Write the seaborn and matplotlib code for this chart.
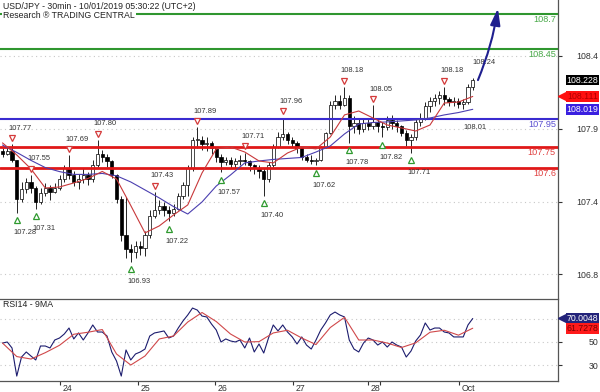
import numpy as np
import pandas as pd
import matplotlib
matplotlib.use("Agg")
import matplotlib.pyplot as plt
import matplotlib.transforms as mtransforms
import seaborn as sns

# 30min candles, compressed
first_open = 107.72
closes = [107.70, 107.72, 107.66, 107.38, 107.45, 107.50, 107.46, 107.36, 107.42, 107.46,
          107.43, 107.46, 107.52, 107.60, 107.55, 107.50, 107.52, 107.55, 107.52, 107.62,
          107.70, 107.68, 107.65, 107.55, 107.38, 107.12, 107.02, 107.00, 107.04, 107.03,
          107.12, 107.26, 107.30, 107.33, 107.30, 107.28, 107.31, 107.40, 107.48, 107.60,
          107.80, 107.80, 107.77, 107.78, 107.74, 107.68, 107.64, 107.66, 107.63, 107.65,
          107.66, 107.65, 107.62, 107.60, 107.58, 107.52, 107.62, 107.75, 107.82, 107.84,
          107.80, 107.78, 107.74, 107.68, 107.66, 107.65, 107.66, 107.75, 107.85, 108.05,
          108.08, 108.05, 108.10, 107.90, 107.92, 107.88, 107.92, 107.90, 107.93, 107.90,
          107.89, 107.94, 107.92, 107.90, 107.85, 107.80, 107.82, 107.93, 107.96, 108.04,
          108.08, 108.10, 108.12, 108.09, 108.07, 108.08, 108.06, 108.07, 108.18, 108.228]
highs = [107.74, 107.75, 107.77, 107.66, 107.50, 107.53, 107.55, 107.47, 107.46, 107.49,
         107.48, 107.49, 107.55, 107.62, 107.69, 107.58, 107.56, 107.60, 107.57, 107.66,
         107.80, 107.73, 107.70, 107.66, 107.56, 107.40, 107.39, 107.06, 107.08, 107.08,
         107.15, 107.30, 107.43, 107.37, 107.36, 107.33, 107.34, 107.42, 107.50, 107.62,
         107.82, 107.89, 107.83, 107.82, 107.79, 107.75, 107.70, 107.68, 107.68, 107.67,
         107.69, 107.71, 107.66, 107.63, 107.62, 107.60, 107.64, 107.77, 107.86, 107.96,
         107.86, 107.82, 107.79, 107.75, 107.70, 107.69, 107.67, 107.76, 107.86, 108.08,
         108.12, 108.12, 108.18, 108.12, 107.97, 107.95, 107.95, 107.96, 108.05, 107.95,
         107.93, 107.97, 107.98, 107.94, 107.91, 107.87, 107.84, 107.95, 107.99, 108.07,
         108.11, 108.13, 108.15, 108.18, 108.11, 108.11, 108.10, 108.09, 108.20, 108.24]
lows = [107.68, 107.69, 107.64, 107.28, 107.36, 107.42, 107.42, 107.31, 107.34, 107.40,
        107.37, 107.42, 107.44, 107.50, 107.52, 107.47, 107.45, 107.49, 107.48, 107.50,
        107.61, 107.64, 107.61, 107.53, 107.35, 107.08, 106.96, 106.93, 106.96, 106.98,
        106.97, 107.10, 107.24, 107.27, 107.26, 107.22, 107.26, 107.30, 107.38, 107.40,
        107.58, 107.74, 107.73, 107.72, 107.70, 107.64, 107.57, 107.62, 107.60, 107.60,
        107.62, 107.62, 107.58, 107.56, 107.53, 107.40, 107.50, 107.61, 107.74, 107.80,
        107.77, 107.75, 107.71, 107.66, 107.64, 107.63, 107.62, 107.65, 107.74, 107.84,
        108.02, 108.02, 108.04, 107.78, 107.85, 107.84, 107.86, 107.87, 107.88, 107.86,
        107.82, 107.87, 107.88, 107.86, 107.83, 107.76, 107.71, 107.80, 107.90, 107.94,
        108.00, 108.04, 108.06, 108.05, 108.04, 108.04, 108.03, 108.02, 108.06, 108.16]

# moving averages, sampled every 3rd candle
ma_step = 3
ma_fast = [107.779, 107.693, 107.593, 107.457, 107.464, 107.493, 107.525, 107.575, 107.521, 107.332,
           107.136, 107.186, 107.264, 107.336, 107.564, 107.736, 107.750, 107.714, 107.650, 107.636,
           107.707, 107.750, 107.736, 107.821, 107.979, 108.007, 107.957, 107.907, 107.886, 107.864,
           107.907, 108.064, 108.071, 108.111]
ma_slow = [107.764, 107.711, 107.654, 107.603, 107.574, 107.554, 107.554, 107.561, 107.544, 107.500,
           107.443, 107.386, 107.324, 107.271, 107.357, 107.471, 107.550, 107.636, 107.650, 107.661,
           107.668, 107.675, 107.714, 107.757, 107.843, 107.914, 107.925, 107.929, 107.936, 107.943,
           107.957, 107.979, 107.996, 108.019]

rsi14 = [49.1, 50.0, 44.9, 21.0, 37.2, 41.5, 38.0, 34.7, 46.6, 46.6,
         44.9, 51.7, 53.4, 56.8, 61.9, 52.6, 57.7, 51.7, 57.7, 64.5,
         58.5, 58.5, 55.1, 41.5, 33.8, 21.0, 43.2, 34.7, 39.8, 41.5,
         44.0, 55.1, 57.7, 58.5, 59.4, 53.4, 55.1, 61.9, 67.9, 73.0,
         78.9, 77.2, 72.1, 71.3, 65.3, 60.2, 50.0, 52.6, 50.9, 50.0,
         51.7, 44.9, 53.4, 41.5, 48.3, 40.6, 53.4, 64.5, 59.4, 64.5,
         58.5, 54.3, 48.3, 54.3, 47.4, 44.0, 51.7, 60.2, 66.2, 73.0,
         75.5, 73.0, 71.3, 51.7, 44.0, 41.5, 49.1, 53.4, 51.7, 47.4,
         50.0, 45.7, 50.0, 47.4, 45.7, 37.2, 42.3, 50.9, 56.0, 66.2,
         60.2, 61.9, 61.9, 58.5, 57.7, 54.3, 54.3, 54.3, 64.5, 70.0048]
rsi_ma9 = [49.1, 37.6, 35.5, 40.9, 47.2, 56.6, 58.3, 60.6, 39.8, 30.4,
           38.1, 52.6, 55.1, 67.0, 75.1, 67.4, 56.8, 50.0, 50.3, 57.7,
           60.0, 53.4, 47.8, 62.3, 71.0, 51.7, 51.7, 49.1, 45.3, 49.3,
           58.3, 60.0, 55.8, 61.7278]

resistances = [108.7, 108.45]
pivot = 107.95
supports = [107.75, 107.6]

peak_bars = [2, 6, 14, 20, 32, 41, 51, 59, 72, 78, 93]
trough_bars = [3, 7, 27, 35, 46, 55, 66, 73, 80, 86]

price_ticks = [108.4, 107.88, 107.36, 106.84]
price_tick_labels = ["108.4", "107.9", "107.4", "106.8"]
rsi_ticks = [30, 50]
day_ticks = [12.1, 28.5, 44.7, 61.1, 77.0, 96.2]
day_labels = ["24", "25", "26", "27", "28", "Oct"]

arrow_bars = (100.1, 104.3)
arrow_target = 108.74

sns.set_style("white")
plt.rcParams["font.family"] = ["Liberation Sans", "DejaVu Sans"]
FS = 6.3
FS_SWING = 5.4

n = len(closes)
bars = np.arange(n)
opens = np.array([first_open] + closes[:-1])
c = np.array(closes)

fig = plt.figure(figsize=(6, 3.92), dpi=100)
ax = fig.add_axes([0, 1 - 298 / 392, 558 / 600, 298 / 392])
axr = fig.add_axes([0, 1 - 381 / 392, 558 / 600, 82 / 392], sharex=ax)

# grid
for v in price_ticks:
    ax.axhline(v, color="#c8c8c8", lw=0.8, ls=(0, (1, 3)), zorder=0)
for v in [30, 50, 70]:
    axr.axhline(v, color="#c8c8c8", lw=0.8, ls=(0, (1, 3)), zorder=0)

# candles
ax.vlines(bars, lows, highs, color="black", lw=0.6, zorder=2)
up = c >= opens
body = np.maximum(np.abs(c - opens), 0.004)
ax.bar(bars, body, bottom=np.minimum(c, opens), width=0.66,
       color=np.where(up, "white", "black"), edgecolor="black", lw=0.5, zorder=2)

# moving averages
ma_df = pd.DataFrame({"bar": np.arange(0, n, ma_step), "fast": ma_fast, "slow": ma_slow})
sns.lineplot(data=ma_df, x="bar", y="slow", ax=ax, color="#4b3fb0", lw=0.8, zorder=4)
sns.lineplot(data=ma_df, x="bar", y="fast", ax=ax, color="#c8383a", lw=0.8, zorder=4)

# key levels
blend = mtransforms.blended_transform_factory(ax.transAxes, ax.transData)
levels = [(v, "#2f962f", "#49a949", 1.5) for v in resistances]
levels += [(pivot, "#3a2bd0", "#5a4fd0", 1.5)]
levels += [(v, "#e01818", "#e04040", 2.0) for v in supports]
for v, lc, tc, lw in levels:
    ax.axhline(v, color=lc, lw=lw, zorder=3)
    ax.annotate(f"{v:g}", xy=(1, v), xycoords=blend, xytext=(-1.5, -4.3),
                textcoords="offset points", ha="right", va="center", color=tc, fontsize=FS + 0.3)

# swing markers
hi = np.array(highs)
lo = np.array(lows)
ax.plot(peak_bars, hi[peak_bars], ls="none", marker="v", ms=5, mfc="white", mec="#d43a3a", mew=0.9,
        transform=mtransforms.offset_copy(ax.transData, fig=fig, y=4.5, units="points"), zorder=5)
ax.plot(trough_bars, lo[trough_bars], ls="none", marker="^", ms=5, mfc="white", mec="#2f9a2f", mew=0.9,
        transform=mtransforms.offset_copy(ax.transData, fig=fig, y=-5.4, units="points"), zorder=5)
for i in peak_bars:
    ax.annotate(f"{hi[i]:.2f}", xy=(i, hi[i]), xytext=(-2.6, 11.5), textcoords="offset points",
                ha="left", va="center", fontsize=FS_SWING, color="#333333")
for i in trough_bars:
    ax.annotate(f"{lo[i]:.2f}", xy=(i, lo[i]), xytext=(-2.4, -14.4), textcoords="offset points",
                ha="left", va="center", fontsize=FS_SWING, color="#333333")
ax.annotate(f"{hi[-1]:.2f}", xy=(n - 1, hi[-1]), xytext=(-0.5, 11.5), textcoords="offset points",
            ha="left", va="center", fontsize=FS_SWING, color="#333333")
ax.annotate("108.01", xy=(n - 3, lo[-3]), xytext=(0, -13), textcoords="offset points",
            ha="left", va="center", fontsize=FS_SWING, color="#333333")

# projection arrow
ax.annotate("", xy=(arrow_bars[1], arrow_target), xytext=(arrow_bars[0], closes[-1]),
            arrowprops=dict(arrowstyle="-|>,head_length=1.0,head_width=0.3", color="#1f1f8f", lw=1.5,
                            mutation_scale=10, shrinkA=0, shrinkB=0,
                            connectionstyle="arc3,rad=0.06"),
            annotation_clip=False, zorder=6)

# RSI panel
rsi_df = pd.DataFrame({"bar": bars, "rsi": rsi14})
rsi_ma_df = pd.DataFrame({"bar": np.arange(0, n, ma_step), "ma": rsi_ma9})
sns.lineplot(data=rsi_df, x="bar", y="rsi", ax=axr, color="#1c1c6e", lw=0.8, zorder=3)
sns.lineplot(data=rsi_ma_df, x="bar", y="ma", ax=axr, color="#d0484a", lw=0.8, zorder=4)
axr.text(3 / 558, 0.927, "RSI14 - 9MA", transform=axr.transAxes, fontsize=FS, va="center", color="#222222")

# limits & axes
ax.set_xlim(-0.53, 116.95)
ax.set_ylim(106.671, 108.8)
axr.set_ylim(16.8, 86.6)
for a in (ax, axr):
    a.set_xlabel("")
    a.set_ylabel("")
    a.yaxis.tick_right()
    a.tick_params(axis="y", direction="out", length=3, width=0.8, pad=25.9,
                  labelsize=FS, colors="#333333")
    for s in ["left", "top", "bottom", "right"]:
        a.spines[s].set_visible(False)
    a.spines["right"].set_visible(True)
    a.spines["right"].set_color("#555555")
    a.spines["right"].set_linewidth(0.9)
axr.spines["top"].set_visible(True)
axr.spines["bottom"].set_visible(True)
for s in ["top", "bottom"]:
    axr.spines[s].set_color("#555555")
    axr.spines[s].set_linewidth(0.9)

ax.set_yticks(price_ticks)
ax.set_yticklabels(price_tick_labels)
axr.set_yticks(rsi_ticks)
axr.set_yticklabels([str(t) for t in rsi_ticks])
for a in (ax, axr):
    for lbl in a.get_yticklabels():
        lbl.set_ha("right")
ax.tick_params(axis="x", bottom=False, labelbottom=False)
axr.set_xticks(day_ticks)
axr.set_xticklabels(day_labels)
axr.set_xticks([79.5], minor=True)
axr.tick_params(axis="x", which="both", direction="out", length=3, width=0.8, pad=-0.8,
                labelsize=FS, colors="#333333", bottom=True)
shift = mtransforms.ScaledTranslation(2.5 / 100, 0, fig.dpi_scale_trans)
for lbl in axr.get_xticklabels():
    lbl.set_ha("left")
    lbl.set_transform(lbl.get_transform() + shift)


# price tags on the right
def tag(a, y, text, face, color, arrow=False):
    tr = mtransforms.blended_transform_factory(a.transAxes, a.transData)
    a.text(582.5 / 558, y, text, transform=tr, ha="center", va="center", fontsize=FS, color=color,
           bbox=dict(boxstyle="square,pad=0.1", fc=face, ec="none"), clip_on=False, zorder=10)
    if arrow:
        a.plot([562 / 558], [y], marker="<", ms=6, color=face, transform=tr, clip_on=False, zorder=10)


tag(ax, closes[-1], f"{closes[-1]:.3f}", "black", "white")
tag(ax, ma_fast[-1], f"{ma_fast[-1]:.3f}", "#ff1010", "#b00000", arrow=True)
tag(ax, ma_slow[-1], f"{ma_slow[-1]:.3f}", "#3a1fe0", "white")
tag(axr, rsi14[-1], f"{rsi14[-1]:.4f}", "#23237a", "white", arrow=True)
tag(axr, rsi_ma9[-1], f"{rsi_ma9[-1]:.4f}", "#ff1a1a", "#7a0000")

# header
fig.text(3 / 600, 1 - 6.5 / 392, "USD/JPY - 30min - 10/01/2019 05:30:22 (UTC+2)",
         fontsize=FS, va="center", color="#222222")
fig.text(3 / 600, 1 - 16 / 392, "Research \u00ae TRADING CENTRAL", fontsize=FS, va="center",
         color="#222222", bbox=dict(boxstyle="square,pad=0.15", fc="white", ec="none"))

fig.savefig("out.png", dpi=100)
